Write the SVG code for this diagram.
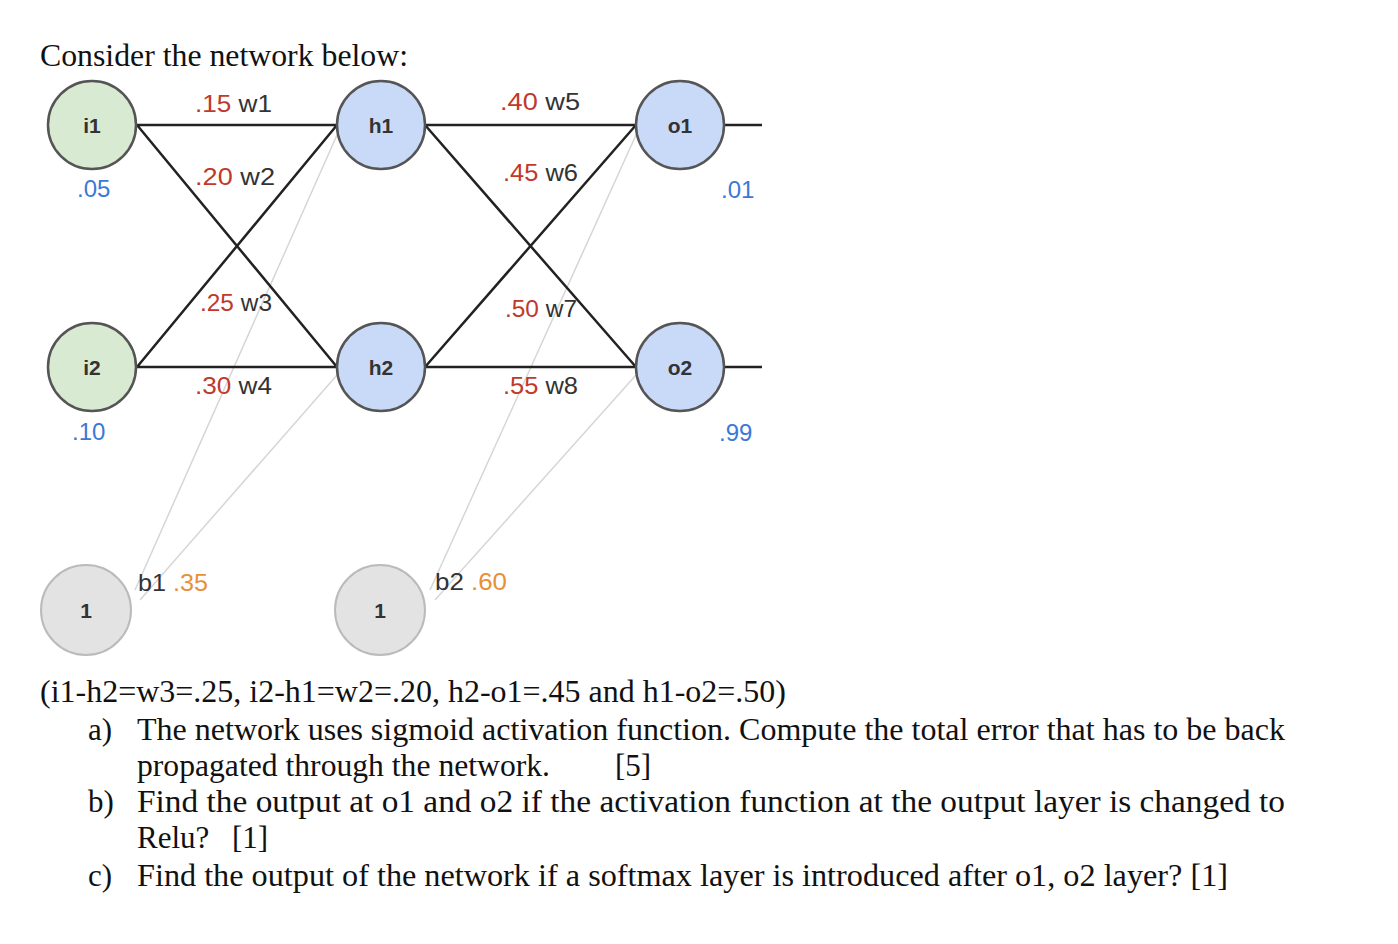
<svg xmlns="http://www.w3.org/2000/svg" width="1398" height="944" viewBox="0 0 1398 944">
<style>
.e{stroke:#222;stroke-width:2.5;fill:none}
.b{stroke:#d6d6d6;stroke-width:1.5;fill:none}
.g{fill:#d9ead3;stroke:#555;stroke-width:2.5}
.u{fill:#c9daf8;stroke:#555;stroke-width:2.5}
.y{fill:#e3e3e3;stroke:#bbb;stroke-width:2}
.n{font-family:"Liberation Sans",Arial,sans-serif;font-size:21px;font-weight:bold;fill:#333;text-anchor:middle}
.l{font-family:"Liberation Sans",Arial,sans-serif;font-size:24px;fill:#333}
.r{fill:#c0392b}.bl{fill:#3c78d8}.o{fill:#e69138}
.t{font-family:"Liberation Serif","Times New Roman",serif;font-size:31px;fill:#111}
</style>
<rect width="1398" height="944" fill="#fff"/>
<text class="t" x="40" y="66" textLength="368" lengthAdjust="spacingAndGlyphs">Consider the network below:</text>
<g id="connectors">
<path class="b" d="M135,590L337,135M140,600L337,375M430,590L636,135M435,600L636,375"/>
<path class="e" d="M137,125H337M137,367H337M137,125L337,367M137,367L337,125M425,125H636M425,367H636M425,125L636,367M425,367L636,125M725,125H762M725,367H762"/>
</g>
<g id="i1"><circle class="g" cx="92" cy="125" r="44"/><text class="n" x="92" y="133">i1</text></g>
<g id="i2"><circle class="g" cx="92" cy="367" r="44"/><text class="n" x="92" y="375">i2</text></g>
<g id="h1"><circle class="u" cx="381" cy="125" r="44"/><text class="n" x="381" y="133">h1</text></g>
<g id="h2"><circle class="u" cx="381" cy="367" r="44"/><text class="n" x="381" y="375">h2</text></g>
<g id="o1"><circle class="u" cx="680" cy="125" r="44"/><text class="n" x="680" y="133">o1</text></g>
<g id="o2"><circle class="u" cx="680" cy="367" r="44"/><text class="n" x="680" y="375">o2</text></g>
<g id="b1"><circle class="y" cx="86" cy="610" r="45"/><text class="n" x="86" y="618">1</text></g>
<g id="b2"><circle class="y" cx="380" cy="610" r="45"/><text class="n" x="380" y="618">1</text></g>
<g class="l">
<text x="195" y="112" textLength="77" lengthAdjust="spacingAndGlyphs"><tspan class="r">.15</tspan> w1</text>
<text x="195" y="185" textLength="80" lengthAdjust="spacingAndGlyphs"><tspan class="r">.20</tspan> w2</text>
<text x="200" y="311" textLength="72" lengthAdjust="spacingAndGlyphs"><tspan class="r">.25</tspan> w3</text>
<text x="195" y="394" textLength="77" lengthAdjust="spacingAndGlyphs"><tspan class="r">.30</tspan> w4</text>
<text x="500" y="110" textLength="80" lengthAdjust="spacingAndGlyphs"><tspan class="r">.40</tspan> w5</text>
<text x="503" y="181" textLength="75" lengthAdjust="spacingAndGlyphs"><tspan class="r">.45</tspan> w6</text>
<text x="505" y="317" textLength="72" lengthAdjust="spacingAndGlyphs"><tspan class="r">.50</tspan> w7</text>
<text x="503" y="394" textLength="75" lengthAdjust="spacingAndGlyphs"><tspan class="r">.55</tspan> w8</text>
<text class="bl" x="77" y="197">.05</text>
<text class="bl" x="72" y="440">.10</text>
<text class="bl" x="721" y="198">.01</text>
<text class="bl" x="719" y="441">.99</text>
<text x="138" y="591" textLength="70" lengthAdjust="spacingAndGlyphs">b1 <tspan class="o">.35</tspan></text>
<text x="435" y="590" textLength="72" lengthAdjust="spacingAndGlyphs">b2 <tspan class="o">.60</tspan></text>
</g>
<text class="t" x="40" y="702" textLength="746" lengthAdjust="spacingAndGlyphs">(i1-h2=w3=.25, i2-h1=w2=.20, h2-o1=.45 and h1-o2=.50)</text>
<text class="t" x="88" y="740">a)</text>
<text class="t" x="137" y="740" textLength="1148" lengthAdjust="spacingAndGlyphs">The network uses sigmoid activation function. Compute the total error that has to be back</text>
<text class="t" x="137" y="776" textLength="413" lengthAdjust="spacingAndGlyphs">propagated through the network.</text>
<text class="t" x="615" y="776">[5]</text>
<text class="t" x="88" y="812">b)</text>
<text class="t" x="137" y="812" textLength="1148" lengthAdjust="spacingAndGlyphs">Find the output at o1 and o2 if the activation function at the output layer is changed to</text>
<text class="t" x="137" y="848">Relu?</text>
<text class="t" x="232" y="848">[1]</text>
<text class="t" x="88" y="886">c)</text>
<text class="t" x="137" y="886" textLength="1091" lengthAdjust="spacingAndGlyphs">Find the output of the network if a softmax layer is introduced after o1, o2 layer?  [1]</text>
</svg>
